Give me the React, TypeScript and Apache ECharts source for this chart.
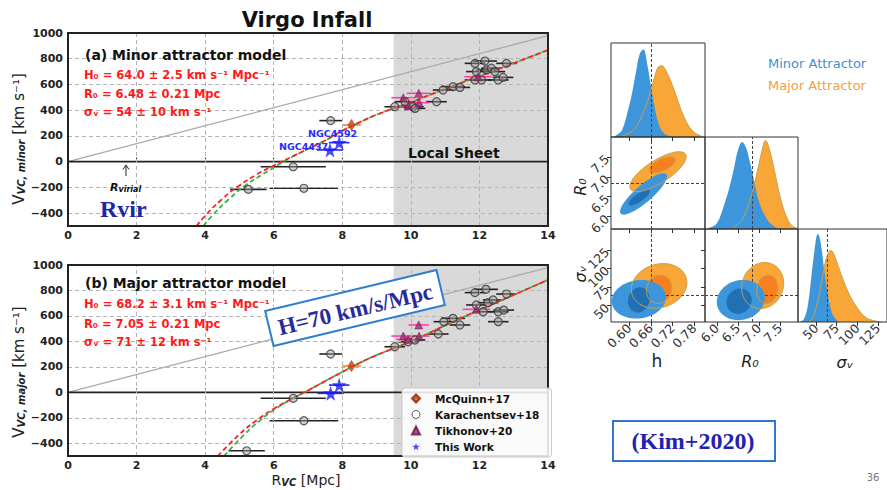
import React, { useEffect, useRef } from "react";
import * as echarts from "echarts";

// ---------- main panels ----------
const R_TICKS = [0, 2, 4, 6, 8, 10, 12, 14];
const V_TICKS = [-400, -200, 0, 200, 400, 600, 800, 1000];
const GRID_R = [2, 4, 6, 8, 10, 12];
const GRID_V = [-400, -200, 200, 400, 600, 800];
const LOCAL_SHEET = [9.5, 14];
const HUBBLE_70 = [[0, 0], [14, 980]];
const ZERO_LINE = [[0, 0], [14, 0]];

// [R (Mpc), V (km/s), R error]
const minorKarachentsev = [
  [7.66, 319, 0.33], [6.57, -39, 0.95], [5.26, -215, 0.53], [6.88, -207, 1.0],
  [9.53, 427, 0.3], [9.83, 466, 0.3], [10.07, 427, 0.3], [10.12, 414, 0.3],
  [10.75, 466, 0.3], [10.94, 557, 0.3], [11.23, 583, 0.35], [11.43, 577, 0.3],
  [11.87, 764, 0.3], [12.16, 782, 0.35], [12.79, 764, 0.3], [11.91, 700, 0.3],
  [12.06, 635, 0.3], [12.21, 713, 0.3], [12.35, 726, 0.3], [12.45, 700, 0.3],
  [12.55, 635, 0.3], [12.69, 655, 0.3], [11.87, 635, 0.3],
];
const minorTikhonov = [
  [9.78, 497, 0.35], [10.23, 531, 0.35], [10.24, 458, 0.3], [9.92, 433, 0.35], [11.96, 660, 0.4],
];
const minorMcQuinn = [[8.27, 285, 0.27]];
const minorThisWork = [[7.91, 148, 0.3], [7.64, 91, 0.38]];
const minorRedCurve = [
  [3.75, -500], [4, -420], [4.5, -290], [5, -185], [5.5, -100], [6, -30], [6.5, 35],
  [7, 100], [7.5, 165], [8, 240], [8.5, 305], [9, 365], [10, 462], [11, 565],
  [12, 665], [13, 765], [14, 868],
];
const minorGreenCurve = [
  [3.95, -500], [4.2, -420], [4.7, -290], [5.2, -180], [5.7, -95], [6.1, -30], [6.5, 32],
  [7, 98], [7.5, 164], [8, 240], [8.5, 305], [9, 365], [10, 462], [11, 565],
  [12, 665], [13, 765], [14, 868],
];

const majorKarachentsev = [
  [7.66, 301, 0.33], [6.57, -47, 0.95], [6.88, -223, 1.0], [5.21, -459, 0.53],
  [9.53, 358, 0.3], [9.92, 397, 0.3], [10.12, 411, 0.3], [10.8, 458, 0.3],
  [10.96, 555, 0.3], [11.23, 581, 0.35], [11.43, 529, 0.3], [11.87, 783, 0.3],
  [12.19, 809, 0.35], [12.79, 772, 0.3], [11.91, 686, 0.3], [12.11, 633, 0.3],
  [12.25, 704, 0.3], [12.4, 725, 0.3], [12.55, 633, 0.3], [12.71, 646, 0.3],
  [12.55, 555, 0.3],
];
const majorTikhonov = [
  [9.78, 442, 0.35], [10.23, 529, 0.3], [9.92, 416, 0.35], [10.24, 442, 0.3], [11.91, 652, 0.4],
];
const majorMcQuinn = [[8.27, 207, 0.27]];
const majorThisWork = [[7.91, 57, 0.3], [7.66, -8, 0.38]];
const majorRedCurve = [
  [4.37, -500], [5, -330], [5.5, -220], [6, -130], [6.5, -55], [7, 15], [7.5, 88],
  [8, 160], [8.5, 230], [9, 292], [10, 400], [11, 525], [12, 647], [13, 765], [14, 883],
];
const majorGreenCurve = [
  [4.55, -500], [5.15, -330], [5.6, -220], [6.05, -130], [6.5, -57], [7, 14], [7.5, 88],
  [8, 160], [8.5, 230], [9, 292], [10, 400], [11, 525], [12, 647], [13, 765], [14, 883],
];

// ---------- corner plot ----------
const H_TICKS = [0.6, 0.66, 0.72, 0.78];
const R0_TICKS = [6.0, 6.5, 7.0, 7.5];
const SIG_TICKS = [50, 75, 100, 125];
const H_TRUTH = 0.656;
const R0_TRUTH = 6.85;
const SIG_TRUTH = 64;

const hMinorPdf = [
  [0.56, 0.01], [0.58, 0.07], [0.6, 0.33], [0.61, 0.5], [0.62, 0.71], [0.63, 0.89],
  [0.64, 0.93], [0.65, 0.78], [0.66, 0.55], [0.67, 0.33], [0.68, 0.16], [0.69, 0.07],
  [0.7, 0.03], [0.72, 0.0],
];
const hMajorPdf = [
  [0.58, 0.01], [0.6, 0.04], [0.62, 0.11], [0.64, 0.27], [0.65, 0.37], [0.66, 0.49],
  [0.67, 0.63], [0.68, 0.74], [0.69, 0.76], [0.7, 0.72], [0.72, 0.55], [0.74, 0.33],
  [0.76, 0.15], [0.78, 0.05], [0.8, 0.01],
];
const r0MinorPdf = [
  [5.8, 0.01], [6.0, 0.06], [6.2, 0.3], [6.3, 0.45], [6.4, 0.64], [6.5, 0.85], [6.6, 0.946],
  [6.7, 0.88], [6.8, 0.7], [6.9, 0.5], [7.0, 0.3], [7.2, 0.1], [7.4, 0.02], [7.6, 0.0],
];
const r0MajorPdf = [
  [6.4, 0.02], [6.6, 0.1], [6.8, 0.33], [6.9, 0.5], [7.0, 0.7], [7.1, 0.9], [7.15, 0.96],
  [7.2, 0.94], [7.3, 0.78], [7.4, 0.57], [7.5, 0.36], [7.6, 0.2], [7.7, 0.09], [7.8, 0.03],
  [7.9, 0.01],
];
const sigMinorPdf = [
  [30, 0.0], [35, 0.03], [40, 0.18], [45, 0.55], [50, 0.9], [52, 0.95], [55, 0.88],
  [60, 0.55], [65, 0.25], [70, 0.08], [75, 0.02], [80, 0.0],
];
const sigMajorPdf = [
  [40, 0.0], [45, 0.03], [50, 0.15], [55, 0.35], [60, 0.6], [65, 0.75], [68, 0.77],
  [72, 0.72], [80, 0.52], [90, 0.3], [100, 0.15], [110, 0.05], [120, 0.015], [130, 0.0],
];
// contours: [cx, cy, half-extent x, half-extent y, correlation]
const hR0Minor = [[0.64, 6.57, 0.065, 0.52, 0.85], [0.628, 6.48, 0.03, 0.2, 0.8]];
const hR0Major = [[0.68, 7.13, 0.078, 0.5, 0.75], [0.692, 7.3, 0.036, 0.2, 0.6]];
const hSigMinor = [[0.627, 58.6, 0.075, 26, 0.1], [0.627, 57.7, 0.03, 17, 0.1]];
const hSigMajor = [[0.683, 76.5, 0.077, 30, 0.15], [0.683, 72, 0.035, 19, 0.1]];
const r0SigMinor = [[6.57, 57.5, 0.57, 27, 0.1], [6.53, 56, 0.3, 17, 0.1]];
const r0SigMajor = [[7.09, 77, 0.5, 31, 0.1], [7.2, 72, 0.25, 19, 0.1]];

const BLUE = "#3d96db";
const BLUE_DARK = "#2270b4";
const ORANGE = "#f8a637";
const ORANGE_DARK = "#f6801f";
const ORANGE_LINE = "#caa04a";
const STAR = "path://M50,0 L61,35 L98,35 L68,57 L79,91 L50,70 L21,91 L32,57 L2,35 L39,35 Z";
const SANS = "DejaVu Sans";
const SERIF = "Liberation Serif";

function errSeries(data: number[][], color: string, xi: number, yi: number) {
  return {
    type: "custom", xAxisIndex: xi, yAxisIndex: yi, data, encode: { x: 0, y: 1 }, z: 4, silent: true,
    renderItem: (_p: any, api: any) => {
      const r = api.value(0), v = api.value(1), e = api.value(2);
      const a = api.coord([r - e, v]);
      const b = api.coord([r + e, v]);
      return { type: "line", shape: { x1: a[0], y1: a[1], x2: b[0], y2: b[1] }, style: { stroke: color, lineWidth: 1.6 } };
    },
  };
}

function ellipseSeries(data: number[][], fill: string | null, xi: number, yi: number, z: number) {
  return {
    type: "custom", xAxisIndex: xi, yAxisIndex: yi, data, encode: { x: 0, y: 1 }, z, silent: true,
    renderItem: (_p: any, api: any) => {
      const cx = api.value(0), cy = api.value(1), ex = api.value(2), ey = api.value(3), rho = api.value(4);
      const pts: number[][] = [];
      const n = 64;
      for (let i = 0; i < n; i++) {
        const t = (i / n) * Math.PI * 2;
        const x = cx + ex * Math.cos(t);
        const y = cy + ey * (rho * Math.cos(t) + Math.sqrt(1 - rho * rho) * Math.sin(t));
        pts.push(api.coord([x, y]));
      }
      return {
        type: "polygon", shape: { points: pts },
        style: fill ? { fill, stroke: "none" } : { fill: "none", stroke: ORANGE_LINE, lineWidth: 1 },
      };
    },
  };
}

function pdfSeries(data: number[][], color: string, xi: number, yi: number, z: number, area = true) {
  return {
    type: "line", xAxisIndex: xi, yAxisIndex: yi, data, smooth: 0.35, symbol: "none", z, silent: true,
    lineStyle: area ? { width: 0, opacity: 0 } : { width: 1, color: ORANGE_LINE },
    areaStyle: area ? { color, opacity: 1 } : undefined,
    itemStyle: { color },
  };
}

function refLines(xi: number, yi: number, xs: number[], ys: number[]) {
  return {
    type: "line", xAxisIndex: xi, yAxisIndex: yi, data: [], symbol: "none", z: 8, silent: true,
    markLine: {
      silent: true, symbol: "none", label: { show: false }, animation: false,
      lineStyle: { type: [3, 2], color: "#444", width: 1 },
      data: [...xs.map((v) => ({ xAxis: v })), ...ys.map((v) => ({ yAxis: v }))],
    },
  };
}

function mainSeries(p: number, kar: number[][], tik: number[][], mcq: number[][], tw: number[][], red: number[][], green: number[][]) {
  return [
    {
      type: "line", xAxisIndex: p, yAxisIndex: p, data: [[0, 0]], symbol: "none", z: 1, silent: true,
      lineStyle: { opacity: 0 },
      markArea: { silent: true, itemStyle: { color: "#d9d9d9" }, data: [[{ xAxis: LOCAL_SHEET[0] }, { xAxis: LOCAL_SHEET[1] }]] },
    },
    {
      type: "line", xAxisIndex: p, yAxisIndex: p, data: [[0, 0]], symbol: "none", z: 2, silent: true,
      lineStyle: { opacity: 0 },
      markLine: {
        silent: true, symbol: "none", label: { show: false },
        lineStyle: { type: [4, 3], color: "#b4b4b4", width: 1 },
        data: [...GRID_R.map((v) => ({ xAxis: v })), ...GRID_V.map((v) => ({ yAxis: v }))],
      },
    },
    { type: "line", xAxisIndex: p, yAxisIndex: p, data: HUBBLE_70, symbol: "none", z: 3, silent: true, lineStyle: { color: "#a8a8a8", width: 1.2 } },
    { type: "line", xAxisIndex: p, yAxisIndex: p, data: ZERO_LINE, symbol: "none", z: 3, silent: true, lineStyle: { color: "#222", width: 1.6 } },
    errSeries(kar, "#222", p, p),
    errSeries(tik, "#ff3fa8", p, p),
    errSeries(mcq, "#ff7f2a", p, p),
    errSeries(tw, "#2222ff", p, p),
    { type: "line", xAxisIndex: p, yAxisIndex: p, data: green, smooth: true, symbol: "none", z: 5, silent: true, lineStyle: { color: "#3cb04a", width: 1.8, type: [5, 3] } },
    { type: "line", xAxisIndex: p, yAxisIndex: p, data: red, smooth: true, symbol: "none", z: 5, silent: true, lineStyle: { color: "#ff2222", width: 1.8, type: [5, 3] } },
    { name: "Karachentsev+18", type: "scatter", xAxisIndex: p, yAxisIndex: p, data: kar, symbol: "circle", symbolSize: 8, z: 6,
      itemStyle: { color: "rgba(160,160,160,0.6)", borderColor: "#333", borderWidth: 1.2 } },
    { name: "Tikhonov+20", type: "scatter", xAxisIndex: p, yAxisIndex: p, data: tik, symbol: "triangle", symbolSize: 8, z: 6,
      itemStyle: { color: "#9c2a6e", borderColor: "#6a1048", borderWidth: 0.6 } },
    { name: "McQuinn+17", type: "scatter", xAxisIndex: p, yAxisIndex: p, data: mcq, symbol: "diamond", symbolSize: [7, 11], z: 6,
      itemStyle: { color: "#d94010", borderColor: "#8a2000", borderWidth: 0.6 } },
    { name: "This Work", type: "scatter", xAxisIndex: p, yAxisIndex: p, data: tw, symbol: STAR, symbolSize: 15, z: 7,
      itemStyle: { color: "#1a1aff" } },
  ];
}

const mainLabel = { fontFamily: SANS, fontWeight: "bold", fontSize: 11, color: "#222" };
const cornerLabel = { fontFamily: SANS, fontSize: 12.5, color: "#333", rotate: 45, margin: 4 };

function mainX(gi: number) {
  return {
    type: "value", gridIndex: gi, min: 0, max: 14, interval: 2,
    axisLine: { show: false }, splitLine: { show: false },
    axisTick: { inside: true, length: 4, lineStyle: { color: "#222" } },
    axisLabel: { ...mainLabel, margin: 4, formatter: (v: number) => String(v) },
  };
}
function mainY(gi: number) {
  return {
    type: "value", gridIndex: gi, min: -500, max: 1000,
    axisLine: { show: false }, splitLine: { show: false },
    axisTick: { inside: true, length: 4, customValues: V_TICKS, lineStyle: { color: "#222" } },
    axisLabel: { ...mainLabel, customValues: V_TICKS, margin: 5, formatter: (v: number) => (v < 0 ? "\u2212" + Math.abs(v) : String(v)) },
  };
}
function cornerAxis(gi: number, min: number, max: number, ticks: number[] | null, labels: boolean, fmt: (v: number) => string) {
  return {
    type: "value", gridIndex: gi, min, max,
    axisLine: { show: false }, splitLine: { show: false },
    axisTick: ticks ? { show: true, inside: false, length: 4, customValues: ticks, lineStyle: { color: "#333" } } : { show: false },
    axisLabel: labels && ticks ? { ...cornerLabel, customValues: ticks, formatter: (v: number) => fmt(v) } : { show: false },
  };
}

const f2 = (v: number) => v.toFixed(2);
const f1 = (v: number) => v.toFixed(1);
const f0 = (v: number) => v.toFixed(0);

function txt(x: number, y: number, text: string, style: any, extra: any = {}) {
  return { type: "text", x, y, z: 50, silent: true, ...extra, style: { text, ...style } };
}

export default function App() {
  const ref = useRef<HTMLDivElement>(null);
  useEffect(() => {
    if (!ref.current) return;
    const chart = echarts.init(ref.current, null, { renderer: "svg" });
    const boxGrid = { show: true, borderColor: "#222", borderWidth: 2, backgroundColor: "transparent", containLabel: false, z: 10 };
    const cGrid = { show: true, borderColor: "#333", borderWidth: 1, backgroundColor: "transparent", containLabel: false, z: 10 };
    const red = { fontFamily: SANS, fontWeight: "bold", fontSize: 11.5, fill: "#ff1a1a", align: "left", verticalAlign: "middle" };
    const head = { fontFamily: SANS, fontWeight: "bold", fontSize: 14, fill: "#111", align: "left", verticalAlign: "middle" };
    const ytitleRich = {
      m: { fontSize: 15, fontFamily: SANS, fill: "#222", color: "#222", lineHeight: 16, verticalAlign: "bottom" },
      s: { fontSize: 10, fontFamily: SANS, fontStyle: "italic", fontWeight: "bold", fill: "#222", color: "#222", lineHeight: 11, verticalAlign: "bottom" },
    };
    const xtitleRich = {
      m: { fontSize: 14, fontFamily: SANS, fill: "#222", color: "#222", lineHeight: 14, verticalAlign: "bottom" },
      s: { fontSize: 10, fontFamily: SANS, fontStyle: "italic", fontWeight: "bold", fill: "#222", color: "#222", lineHeight: 10, verticalAlign: "bottom" },
    };
    const option: any = {
      animation: false,
      backgroundColor: "#ffffff",
      grid: [
        { ...boxGrid, left: 68, top: 33, width: 480, height: 193 },
        { ...boxGrid, left: 68, top: 265, width: 480, height: 191 },
        { ...cGrid, left: 611, top: 43, width: 94, height: 94 },
        { ...cGrid, left: 611, top: 137, width: 94, height: 92 },
        { ...cGrid, left: 705, top: 137, width: 93, height: 92 },
        { ...cGrid, left: 611, top: 229, width: 94, height: 93 },
        { ...cGrid, left: 705, top: 229, width: 93, height: 93 },
        { ...cGrid, left: 798, top: 229, width: 93, height: 93 },
      ],
      xAxis: [
        mainX(0), mainX(1),
        cornerAxis(2, 0.55, 0.81, H_TICKS, false, f2),
        cornerAxis(3, 0.55, 0.81, H_TICKS, false, f2),
        cornerAxis(4, 5.72, 7.93, R0_TICKS, false, f1),
        cornerAxis(5, 0.55, 0.81, H_TICKS, true, f2),
        cornerAxis(6, 5.72, 7.93, R0_TICKS, true, f1),
        cornerAxis(7, 28, 136, SIG_TICKS, true, f0),
      ],
      yAxis: [
        mainY(0), mainY(1),
        cornerAxis(2, 0, 1, null, false, f0),
        cornerAxis(3, 5.69, 8.0, R0_TICKS, true, f1),
        cornerAxis(4, 0, 1, null, false, f0),
        cornerAxis(5, 28, 153, SIG_TICKS, true, f0),
        cornerAxis(6, 28, 153, SIG_TICKS, false, f0),
        cornerAxis(7, 0, 1, null, false, f0),
      ],
      legend: {
        left: 402, top: 388, orient: "vertical", itemGap: 5, itemWidth: 8, itemHeight: 8,
        padding: [5, 12, 5, 9], backgroundColor: "rgba(255,255,255,0.85)", borderColor: "#c8c8c8", borderWidth: 1, borderRadius: 3,
        textStyle: { fontFamily: SANS, fontWeight: "bold", fontSize: 10.5, color: "#111", padding: [0, 0, 0, 10] },
        selectedMode: false, z: 20,
        data: [
          { name: "McQuinn+17", icon: "diamond" },
          { name: "Karachentsev+18", icon: "circle", itemStyle: { color: "#ffffff", borderColor: "#333", borderWidth: 1 } },
          { name: "Tikhonov+20", icon: "triangle" },
          { name: "This Work", icon: STAR },
        ],
      },
      series: [
        ...mainSeries(0, minorKarachentsev, minorTikhonov, minorMcQuinn, minorThisWork, minorRedCurve, minorGreenCurve),
        ...mainSeries(1, majorKarachentsev, majorTikhonov, majorMcQuinn, majorThisWork, majorRedCurve, majorGreenCurve),
        // diagonal pdfs
        pdfSeries(hMajorPdf, ORANGE, 2, 2, 3), pdfSeries(hMinorPdf, BLUE, 2, 2, 4), pdfSeries(hMajorPdf, ORANGE, 2, 2, 5, false),
        pdfSeries(r0MajorPdf, ORANGE, 4, 4, 3), pdfSeries(r0MinorPdf, BLUE, 4, 4, 4), pdfSeries(r0MajorPdf, ORANGE, 4, 4, 5, false),
        pdfSeries(sigMajorPdf, ORANGE, 7, 7, 3), pdfSeries(sigMinorPdf, BLUE, 7, 7, 4), pdfSeries(sigMajorPdf, ORANGE, 7, 7, 5, false),
        // contours
        ellipseSeries([hR0Major[0]], ORANGE, 3, 3, 3), ellipseSeries([hR0Major[1]], ORANGE_DARK, 3, 3, 4),
        ellipseSeries([hR0Minor[0]], BLUE, 3, 3, 5), ellipseSeries([hR0Minor[1]], BLUE_DARK, 3, 3, 6),
        ellipseSeries(hR0Major, null, 3, 3, 7),
        ellipseSeries([hSigMajor[0]], ORANGE, 5, 5, 3), ellipseSeries([hSigMajor[1]], ORANGE_DARK, 5, 5, 4),
        ellipseSeries([hSigMinor[0]], BLUE, 5, 5, 5), ellipseSeries([hSigMinor[1]], BLUE_DARK, 5, 5, 6),
        ellipseSeries(hSigMajor, null, 5, 5, 7),
        ellipseSeries([r0SigMajor[0]], ORANGE, 6, 6, 3), ellipseSeries([r0SigMajor[1]], ORANGE_DARK, 6, 6, 4),
        ellipseSeries([r0SigMinor[0]], BLUE, 6, 6, 5), ellipseSeries([r0SigMinor[1]], BLUE_DARK, 6, 6, 6),
        ellipseSeries(r0SigMajor, null, 6, 6, 7),
        // truth lines
        refLines(2, 2, [H_TRUTH], []),
        refLines(3, 3, [H_TRUTH], [R0_TRUTH]),
        refLines(4, 4, [R0_TRUTH], []),
        refLines(5, 5, [H_TRUTH], [SIG_TRUTH]),
        refLines(6, 6, [R0_TRUTH], [SIG_TRUTH]),
        refLines(7, 7, [SIG_TRUTH], []),
      ],
      graphic: [
        txt(307, 20, "Virgo Infall", { fontFamily: SANS, fontWeight: "bold", fontSize: 21, fill: "#111", align: "center", verticalAlign: "middle" }),
        txt(85, 55, "(a) Minor attractor model", head),
        txt(84, 75, "H₀ = 64.0 ± 2.5 km s⁻¹ Mpc⁻¹", red),
        txt(84, 94, "R₀ = 6.48 ± 0.21 Mpc", red),
        txt(84, 112, "σᵥ = 54 ± 10 km s⁻¹", red),
        txt(85, 283, "(b) Major attractor model", head),
        txt(84, 304, "H₀ = 68.2 ± 3.1 km s⁻¹ Mpc⁻¹", red),
        txt(84, 324, "R₀ = 7.05 ± 0.21 Mpc", red),
        txt(84, 342, "σᵥ = 71 ± 12 km s⁻¹", red),
        txt(408, 153, "Local Sheet", { fontFamily: SANS, fontWeight: "bold", fontSize: 14, fill: "#111", align: "left", verticalAlign: "middle" }),
        txt(308, 133, "NGC4592", { fontFamily: SANS, fontWeight: "bold", fontSize: 9.5, fill: "#2a2aff", align: "left", verticalAlign: "middle" }),
        txt(279, 146, "NGC4437", { fontFamily: SANS, fontWeight: "bold", fontSize: 9.5, fill: "#2a2aff", align: "left", verticalAlign: "middle" }),
        { type: "line", z: 50, silent: true, shape: { x1: 126, y1: 176, x2: 126, y2: 166 }, style: { stroke: "#222", lineWidth: 1 } },
        { type: "polyline", z: 50, silent: true, shape: { points: [[123, 169.5], [126, 165], [129, 169.5]] }, style: { stroke: "#222", fill: "none", lineWidth: 1 } },
        txt(110, 186, "{r|R}{s|virial}", {
          align: "left", verticalAlign: "middle",
          rich: {
            r: { fontFamily: SANS, fontStyle: "italic", fontWeight: "bold", fontSize: 11, fill: "#111", color: "#111", lineHeight: 14, verticalAlign: "bottom" },
            s: { fontFamily: SANS, fontStyle: "italic", fontWeight: "bold", fontSize: 8, fill: "#111", color: "#111", lineHeight: 9, verticalAlign: "bottom" },
          },
        }),
        txt(100, 209, "Rvir", { fontFamily: SERIF, fontWeight: "bold", fontSize: 24, fill: "#1c28a8", align: "left", verticalAlign: "middle" }),
        txt(18, 139, "{m|V}{s|VC, minor}{m| [km s⁻¹]}", { align: "center", verticalAlign: "middle", rich: ytitleRich }, { rotation: Math.PI / 2 }),
        txt(18, 372, "{m|V}{s|VC, major}{m| [km s⁻¹]}", { align: "center", verticalAlign: "middle", rich: ytitleRich }, { rotation: Math.PI / 2 }),
        txt(306, 480, "{m|R}{s|VC}{m| [Mpc]}", { align: "center", verticalAlign: "middle", rich: xtitleRich }),
        {
          type: "group", x: 355, y: 308, rotation: 0.235, silent: true,
          children: [
            { type: "rect", z: 60, shape: { x: -88, y: -18, width: 176, height: 36 }, style: { fill: "#ffffff", stroke: "#2e80cf", lineWidth: 2 } },
            { type: "text", z: 61, x: 0, y: 1, style: { text: "H=70 km/s/Mpc", fontFamily: SERIF, fontWeight: "bold", fontSize: 23, fill: "#2a2a9e", align: "center", verticalAlign: "middle" } },
          ],
        },
        // corner plot texts
        txt(768, 63, "Minor Attractor", { fontFamily: SANS, fontSize: 13, fill: "#3f8fd5", align: "left", verticalAlign: "middle" }),
        txt(768, 85, "Major Attractor", { fontFamily: SANS, fontSize: 13, fill: "#f5a040", align: "left", verticalAlign: "middle" }),
        txt(657, 361, "h", { fontFamily: SANS, fontSize: 17, fill: "#222", align: "center", verticalAlign: "middle" }),
        txt(750, 361, "R₀", { fontFamily: SANS, fontStyle: "italic", fontSize: 16, fill: "#222", align: "center", verticalAlign: "middle" }),
        txt(845, 362, "σᵥ", { fontFamily: SANS, fontStyle: "italic", fontSize: 16, fill: "#222", align: "center", verticalAlign: "middle" }),
        txt(580, 187, "R₀", { fontFamily: SANS, fontStyle: "italic", fontSize: 16, fill: "#222", align: "center", verticalAlign: "middle" }, { rotation: Math.PI / 2 }),
        txt(580, 274, "σᵥ", { fontFamily: SANS, fontStyle: "italic", fontSize: 16, fill: "#222", align: "center", verticalAlign: "middle" }, { rotation: Math.PI / 2 }),
        { type: "rect", z: 40, silent: true, shape: { x: 613, y: 421, width: 162, height: 40 }, style: { fill: "#ffffff", stroke: "#2e78cc", lineWidth: 2 } },
        txt(693, 441, "(Kim+2020)", { fontFamily: SERIF, fontWeight: "bold", fontSize: 24, fill: "#2222b0", align: "center", verticalAlign: "middle" }),
        txt(873, 477, "36", { fontFamily: SANS, fontSize: 10, fill: "#777", align: "center", verticalAlign: "middle" }),
      ],
    };
    chart.setOption(option);
    return () => chart.dispose();
  }, []);
  return <div ref={ref} style={{ position: "absolute", left: 0, top: 0, width: 887, height: 490 }} />;
}
